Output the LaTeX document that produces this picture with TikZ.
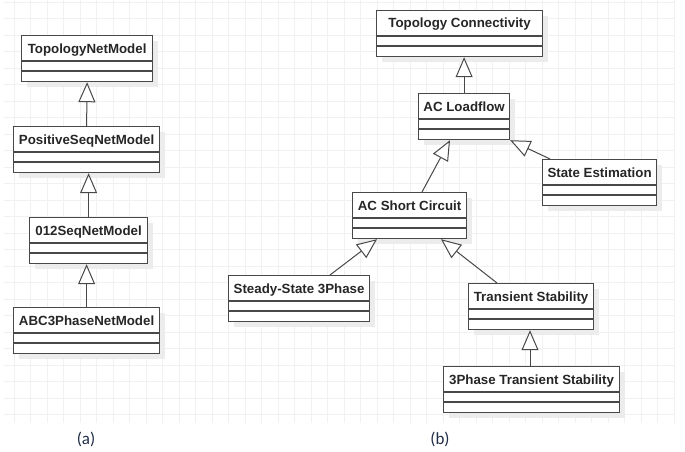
\documentclass[tikz,border=0pt]{standalone}
\usepackage{fontspec}
\setmainfont{Liberation Sans}
\newfontfamily\calib{Carlito}
\usetikzlibrary{arrows.meta,calc}
\definecolor{gridc}{RGB}{241,241,241}
\definecolor{shadowc}{RGB}{236,236,236}
\definecolor{linec}{RGB}{72,72,72}
\definecolor{capc}{RGB}{30,44,70}
\tikzset{
  cls/.style={draw=linec, line width=1.2pt, fill=white, inner sep=0pt, minimum height=46pt, anchor=north west},
  clstext/.style={font=\bfseries\fontsize{13.3}{16}\selectfont, text=black!85, anchor=base, inner sep=0pt},
  divider/.style={draw=linec, line width=1.2pt},
  inherit/.style={draw=linec, line width=1pt, -{Triangle[open, length=20pt, width=17pt, fill=white, line width=1pt]}},
  caption/.style={font=\calib\fontsize{17}{20}\selectfont, text=capc},
}
% \umlclass{name}{left}{top}{width}{text}
\newcommand{\umlclass}[5]{%
  \fill[shadowc] (#2+6,#3+6) rectangle (#2+#4+6,#3+46+6);
  \node[cls, minimum width=#4pt] (#1) at (#2,#3) {};
  \node[clstext] (#1-t) at ($(#1.north)+(0,18)$) {#5};
  \draw[divider] ($(#1.north west)+(0,26)$) -- ($(#1.north east)+(0,26)$);
  \draw[divider] ($(#1.north west)+(0,36)$) -- ($(#1.north east)+(0,36)$);
}
\begin{document}
\begin{tikzpicture}[x=1pt,y=-1pt]
\useasboundingbox (0,0) rectangle (685,452);
\fill[white] (0,0) rectangle (685,452);
% grid
\foreach \k in {0,...,40} { \draw[gridc, line width=0.9pt] (14+16.5*\k,0) -- (14+16.5*\k,423); }
\foreach \k in {0,...,25} { \draw[gridc, line width=0.9pt] (4,2+16.5*\k) -- (675,2+16.5*\k); }
% (a)
\umlclass{L1}{21}{35}{131}{TopologyNetModel}
\umlclass{L2}{13}{126}{146}{PositiveSeqNetModel}
\umlclass{L3}{29}{217}{118}{012SeqNetModel}
\umlclass{L4}{13}{307}{146}{ABC3PhaseNetModel}
\draw[inherit] (L2.north) -- (L1.south);
\draw[inherit] (L3.north) -- (L3.north |- L2.south);
\draw[inherit] (L4.north) -- (L4.north |- L3.south);
% (b)
\umlclass{R1}{376}{10}{166}{Topology Connectivity}
\umlclass{R2}{418}{93}{91}{AC Loadflow}
\umlclass{R3}{542}{159}{114}{State Estimation}
\umlclass{R4}{352}{192}{114}{AC Short Circuit}
\umlclass{R5}{228}{275}{141}{Steady-State 3Phase}
\umlclass{R6}{468}{283}{125}{Transient Stability}
\umlclass{R7}{443}{366}{176}{3Phase Transient Stability}
\coordinate (r7t) at ($(R7.north west)+(87,0)$);
\draw[inherit] (R2.north) -- (R2.north |- R1.south);
\draw[inherit] ($(R4.north west)+(70,0)$) -- ($(R2.south west)+(32,0)$);
\draw[inherit] ($(R3.north west)+(8,0)$) -- (R2.south east);
\draw[inherit] ($(R5.north west)+(102,0)$) -- ($(R4.south west)+(25,0)$);
\draw[inherit] ($(R6.north west)+(29,0)$) -- ($(R4.south west)+(89,0)$);
\draw[inherit] (r7t) -- (r7t |- R6.south);
% captions
\node[caption] (capa) at (86,439) {(a)};
\node[caption] (capb) at (440,439) {(b)};
\end{tikzpicture}
\end{document}
